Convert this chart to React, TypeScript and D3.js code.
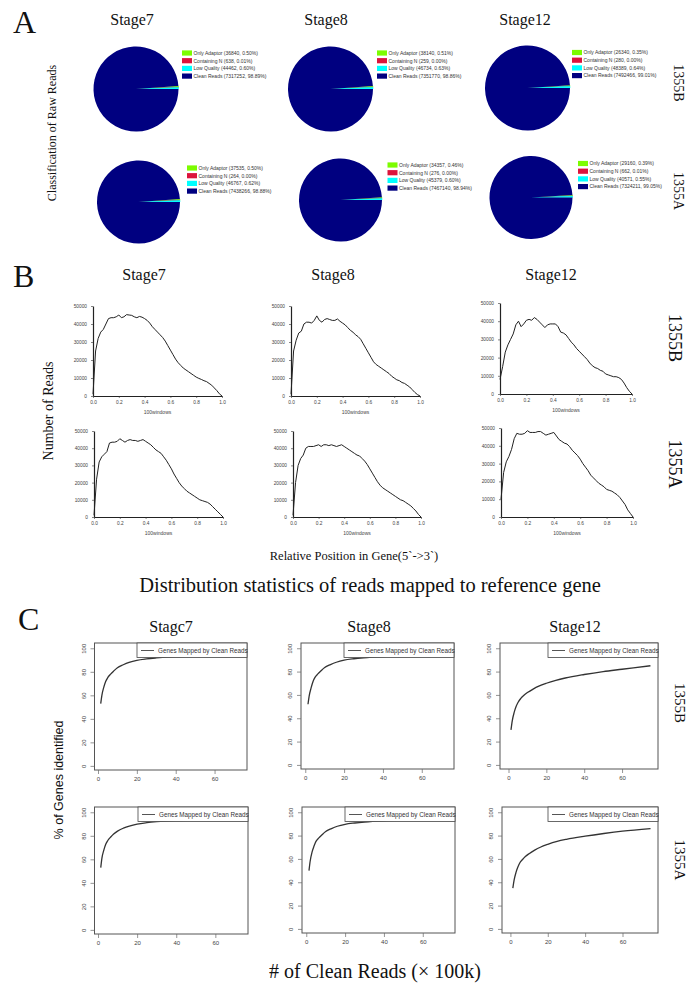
import { useEffect, useRef } from 'react';
import * as d3 from 'd3';

const W = 689;
const H = 1002;
const SERIF = '"Liberation Serif", "Times New Roman", serif';
const SANS = '"Liberation Sans", Arial, sans-serif';

// ---- data ----
const stages = ['Stage7', 'Stage8', 'Stage12'];
const stageTitlesC = ['Stagc7', 'Stage8', 'Stage12'];
const lines = ['1355B', '1355A'];

// A: classification of raw reads
const readClasses = ['Only Adaptor', 'Containing N', 'Low Quality', 'Clean Reads'];
const classColors = ['#7cfc00', '#dc143c', '#00ffff', '#000080'];
const rawReads1355B = [
  [36840, 638, 44462, 7317252],
  [38140, 259, 46734, 7351770],
  [26340, 280, 48389, 7492466],
];
const rawPct1355B = [
  ['0.50%', '0.01%', '0.60%', '98.89%'],
  ['0.51%', '0.00%', '0.63%', '98.86%'],
  ['0.35%', '0.00%', '0.64%', '99.01%'],
];
const rawReads1355A = [
  [37535, 264, 46767, 7438266],
  [34357, 276, 45379, 7467140],
  [29160, 662, 40571, 7324211],
];
const rawPct1355A = [
  ['0.50%', '0.00%', '0.62%', '98.88%'],
  ['0.46%', '0.00%', '0.60%', '98.94%'],
  ['0.39%', '0.01%', '0.55%', '99.05%'],
];

// B: reads along gene body (windows 0.00 .. 1.00 step 0.02)
const posTicks = [0, 0.2, 0.4, 0.6, 0.8, 1.0];
const readTicks = [0, 10000, 20000, 30000, 40000, 50000];
const cov1355BStage7 = [1000, 25000, 32000, 35500, 37000, 40000, 43000, 43500, 43500, 44000, 45000, 43500, 44000, 45200, 45000, 44800, 44000, 43500, 44200, 43800, 43000, 42000, 40500, 38500, 37000, 35500, 34000, 32500, 30500, 28000, 25500, 23000, 20500, 18500, 17000, 15500, 14500, 13500, 12500, 11500, 10500, 9800, 9200, 8500, 8000, 7000, 6000, 4500, 3000, 1200, 0];
const cov1355BStage8 = [1000, 25000, 31000, 35000, 36000, 40000, 41000, 41000, 40500, 42000, 44500, 42000, 41000, 42500, 43000, 42500, 42000, 42000, 42800, 41500, 40500, 39500, 38000, 36500, 35500, 34000, 33000, 31500, 29000, 26500, 24000, 21500, 19000, 17500, 16500, 15500, 14500, 13500, 12500, 11000, 10000, 9000, 8500, 7500, 7000, 6000, 5000, 3500, 2000, 800, 0];
const cov1355BStage12 = [8000, 15000, 23000, 27000, 30000, 33000, 38000, 40000, 37000, 38500, 40500, 41000, 40500, 42000, 41000, 39500, 38000, 36500, 38000, 38500, 38500, 38500, 37000, 34000, 33500, 32500, 30500, 28500, 27000, 25000, 23500, 22000, 20500, 19000, 17000, 15500, 14500, 14000, 13000, 12500, 11000, 10500, 10000, 9500, 9500, 9000, 8000, 6000, 3500, 1500, 0];
const cov1355AStage7 = [1000, 22000, 32000, 35000, 36500, 38000, 43000, 43500, 43500, 44000, 45500, 44500, 43500, 44500, 45000, 44500, 44500, 44000, 44500, 45000, 44000, 43000, 42000, 40500, 39000, 38000, 37000, 35000, 33000, 30500, 28000, 25000, 22500, 20000, 18000, 16500, 15000, 14000, 13000, 12000, 11000, 10000, 9500, 9000, 8500, 7500, 6000, 4500, 3000, 1500, 0];
const cov1355AStage8 = [1000, 20000, 30000, 34000, 36000, 40000, 41000, 41000, 41000, 41500, 42000, 41000, 42000, 42000, 41500, 42000, 41500, 41000, 41500, 42000, 41000, 40000, 39000, 38000, 37000, 36000, 35500, 34000, 32500, 30500, 28000, 25500, 23000, 20500, 18500, 17000, 16000, 15000, 14000, 13000, 12000, 11000, 10000, 9500, 8500, 7500, 6500, 5000, 3500, 1500, 0];
const cov1355AStage12 = [10000, 25000, 31000, 34000, 38000, 44000, 47000, 46500, 46500, 47000, 48500, 47500, 47500, 47500, 48000, 48000, 47000, 46000, 46500, 47000, 47500, 45500, 43500, 42500, 41500, 41000, 39500, 37500, 36000, 34500, 32500, 30000, 28000, 26000, 23500, 22000, 20500, 19000, 18000, 17000, 15500, 15000, 14500, 13500, 12500, 11000, 9000, 7000, 4000, 2000, 0];

// C: saturation of genes mapped by clean reads
const pctTicks = [0, 20, 40, 60, 80, 100];
const cleanTicks = [0, 20, 40, 60];
const cleanReadsEarly = [1.4, 2, 3, 4, 5, 6.5, 8, 10, 13, 16, 20, 25, 30, 40, 50, 60, 74];
const cleanReadsStage12 = [1.3, 2, 3, 4, 5, 6.5, 8, 10, 13, 16, 20, 25, 30, 40, 50, 60, 75];
const genes1355BStage7 = [53, 60, 67, 72, 75, 78, 80.5, 83.5, 86, 88, 89.8, 91, 91.8, 92.9, 93.4, 93.7, 94];
const genes1355BStage8 = [52, 59, 66, 71.5, 75, 78, 80.5, 83.5, 86, 88, 89.8, 91, 91.8, 92.8, 93.4, 93.8, 94.2];
const genes1355BStage12 = [30, 38, 45, 50, 53.5, 57, 59.5, 62, 65, 67.5, 70, 72.5, 74.5, 77.5, 80, 82, 85];
const genes1355AStage7 = [53, 61, 68, 73, 76, 79, 81.5, 84, 86.5, 88.3, 90, 91.2, 92, 93, 93.5, 93.8, 94.2];
const genes1355AStage8 = [50, 58, 66, 71, 75, 78, 80.5, 83.5, 86, 88, 89.7, 90.8, 91.6, 92.6, 93.2, 93.6, 94];
const genes1355AStage12 = [35, 42, 48.5, 53, 56.5, 59.5, 62, 64.5, 67.5, 70, 72.5, 75, 76.8, 79.5, 81.8, 83.8, 86];

const rawReads = [rawReads1355B, rawReads1355A];
const rawPct = [rawPct1355B, rawPct1355A];
const coverage = [
  [cov1355BStage7, cov1355BStage8, cov1355BStage12],
  [cov1355AStage7, cov1355AStage8, cov1355AStage12],
];
const genes = [
  [genes1355BStage7, genes1355BStage8, genes1355BStage12],
  [genes1355AStage7, genes1355AStage8, genes1355AStage12],
];
const cleanReads = [cleanReadsEarly, cleanReadsEarly, cleanReadsStage12];

// ---- layout ----
const pieCenters = [
  [[136, 89], [330.5, 89], [527.5, 88]],
  [[138.5, 202], [340.5, 200], [531, 197.5]],
];
const pieR = [42.5, 41.5];
const pieLegends = [
  [[182, 53], [377, 53], [572, 52.5]],
  [[187, 168], [387.5, 165], [578, 163.5]],
];
const covPanels = [
  [
    { x0: 93, x1: 222, y0: 396, y1: 306 },
    { x0: 291, x1: 420, y0: 396, y1: 306 },
    { x0: 500, x1: 632, y0: 394, y1: 303 },
  ],
  [
    { x0: 94, x1: 223, y0: 517, y1: 431 },
    { x0: 293, x1: 421, y0: 517, y1: 431 },
    { x0: 501, x1: 633, y0: 517, y1: 428 },
  ],
];
const satPanels = [
  [
    { x0: 94.5, x1: 247, y0: 770, y1: 643, xd: [-1.8, 76.7] },
    { x0: 301, x1: 454, y0: 769, y1: 643, xd: [-2.2, 76.6] },
    { x0: 500, x1: 658, y0: 769, y1: 643, xd: [-4.5, 79] },
  ],
  [
    { x0: 94.5, x1: 248, y0: 934, y1: 807, xd: [-1.8, 76.7] },
    { x0: 302, x1: 455, y0: 933, y1: 807, xd: [-2.2, 76.6] },
    { x0: 502, x1: 658, y0: 933, y1: 807, xd: [-4.5, 79] },
  ],
];

export default function App() {
  const svgRef = useRef<SVGSVGElement>(null);

  useEffect(() => {
    const svg = d3.select(svgRef.current);
    svg.selectAll('*').remove();
    svg.append('rect').attr('width', W).attr('height', H).attr('fill', '#fff');

    const label = (
      x: number,
      y: number,
      s: string,
      size: number,
      opts: { rotate?: number; anchor?: string; font?: string; fill?: string } = {}
    ) => {
      const t = svg
        .append('text')
        .attr('transform', `translate(${x},${y})${opts.rotate ? ` rotate(${opts.rotate})` : ''}`)
        .attr('text-anchor', opts.anchor ?? 'middle')
        .attr('font-family', opts.font ?? SERIF)
        .attr('font-size', size)
        .attr('fill', opts.fill ?? '#111')
        .text(s);
      if (opts.rotate) t.attr('dy', '0.35em');
      return t;
    };

    // panel letters and titles
    label(13, 33, 'A', 32, { anchor: 'start' });
    label(13, 287, 'B', 32, { anchor: 'start' });
    label(18, 630, 'C', 32, { anchor: 'start' });
    [132, 326, 525].forEach((x, i) => label(x, 25, stages[i], 16));
    [144, 333, 551].forEach((x, i) => label(x, 280, stages[i], 16));
    [171, 369, 575].forEach((x, i) => label(x, 632, stageTitlesC[i], 16));

    label(679, 83, lines[0], 14, { rotate: 90 });
    label(679, 191, lines[1], 14, { rotate: 90 });
    label(675, 338, lines[0], 18, { rotate: 90 });
    label(675, 464, lines[1], 18, { rotate: 90 });
    label(680, 703, lines[0], 15, { rotate: 90 });
    label(680, 860, lines[1], 15, { rotate: 90 });

    label(52, 133, 'Classification of Raw Reads', 12, { rotate: -90 });
    label(48, 411, 'Number of Reads', 14, { rotate: -90 });
    label(59, 780, '% of Genes identified', 12.5, { rotate: -90, font: SANS });
    label(354, 560, 'Relative Position in Gene(5`->3`)', 12.5);
    label(370, 592, 'Distribution statistics of reads mapped to reference gene', 20.5);
    label(375, 978, '# of Clean Reads (\u00d7 100k)', 20);

    // ---- A: pies ----
    rawReads.forEach((row, r) => {
      row.forEach((counts, s) => {
        const total = d3.sum(counts);
        const small = d3.sum(counts.slice(0, 3)) / total;
        const a0 = Math.PI / 2 - small * 2 * Math.PI;
        const pie = d3
          .pie<number>()
          .sort(null)
          .value((d) => d)
          .startAngle(a0)
          .endAngle(a0 + 2 * Math.PI);
        const arc = d3.arc<d3.PieArcDatum<number>>().innerRadius(0).outerRadius(pieR[r]);
        const [cx, cy] = pieCenters[r][s];
        svg
          .append('g')
          .attr('transform', `translate(${cx},${cy})`)
          .selectAll('path')
          .data(pie(counts))
          .join('path')
          .attr('d', arc)
          .attr('fill', (d, i) => classColors[i])
          .attr('stroke', (d, i) => (i === 3 ? 'none' : classColors[i]))
          .attr('stroke-width', 0.6);

        const [lx, ly] = pieLegends[r][s];
        const lg = svg.append('g').attr('transform', `translate(${lx},${ly})`);
        readClasses.forEach((name, i) => {
          lg.append('rect')
            .attr('x', 0)
            .attr('y', i * 7.7 - 2.6)
            .attr('width', 10)
            .attr('height', 5.2)
            .attr('fill', classColors[i]);
          lg.append('text')
            .attr('x', 11.5)
            .attr('y', i * 7.7 + 1.8)
            .attr('font-family', SANS)
            .attr('font-size', 5)
            .attr('fill', '#333')
            .text(`${name} (${counts[i]}, ${rawPct[r][s][i]})`);
        });
      });
    });

    // ---- B: coverage lines ----
    coverage.forEach((row, r) => {
      row.forEach((vals, s) => {
        const p = covPanels[r][s];
        const x = d3.scaleLinear().domain([0, 1]).range([p.x0, p.x1]);
        const y = d3.scaleLinear().domain([0, 50000]).range([p.y0, p.y1]);
        const g = svg.append('g');

        const ya = g
          .append('g')
          .attr('transform', `translate(${p.x0},0)`)
          .call(d3.axisLeft(y).tickValues(readTicks).tickFormat(d3.format('d')).tickSize(2).tickSizeOuter(0).tickPadding(4));
        const xa = g
          .append('g')
          .attr('transform', `translate(0,${p.y0})`)
          .call(d3.axisBottom(x).tickValues(posTicks).tickFormat(d3.format('.1f')).tickSize(2).tickSizeOuter(0).tickPadding(3));
        [ya, xa].forEach((a) => {
          a.selectAll('text').attr('font-family', SANS).attr('font-size', 4.8).attr('fill', '#444');
          a.selectAll('line').attr('stroke', '#333').attr('stroke-width', 0.6);
          a.select('.domain').attr('stroke', '#222').attr('stroke-width', 1.2);
        });

        const line = d3
          .line<number>()
          .x((d, i) => x(i / (vals.length - 1)))
          .y((d) => y(d));
        g.append('path')
          .datum(vals)
          .attr('fill', 'none')
          .attr('stroke', '#222')
          .attr('stroke-width', 1)
          .attr('d', line);

        g.append('text')
          .attr('x', (p.x0 + p.x1) / 2)
          .attr('y', p.y0 + 18)
          .attr('text-anchor', 'middle')
          .attr('font-family', SANS)
          .attr('font-size', 5)
          .attr('fill', '#444')
          .text('100windows');
      });
    });

    // ---- C: saturation curves ----
    genes.forEach((row, r) => {
      row.forEach((vals, s) => {
        const p = satPanels[r][s];
        const x = d3.scaleLinear().domain(p.xd).range([p.x0, p.x1]);
        const y = d3.scaleLinear().domain([-3.5, 104.5]).range([p.y0, p.y1]);
        const g = svg.append('g');

        g.append('rect')
          .attr('x', p.x0)
          .attr('y', p.y1)
          .attr('width', p.x1 - p.x0)
          .attr('height', p.y0 - p.y1)
          .attr('fill', 'none')
          .attr('stroke', '#555')
          .attr('stroke-width', 1);

        const ya = g
          .append('g')
          .attr('transform', `translate(${p.x0},0)`)
          .call(d3.axisLeft(y).tickValues(pctTicks).tickSize(4).tickSizeOuter(0));
        ya.select('.domain').remove();
        ya.selectAll('text')
          .attr('x', 0)
          .attr('dy', 0)
          .attr('text-anchor', 'middle')
          .attr('transform', 'translate(-9,0) rotate(-90)');

        const xa = g
          .append('g')
          .attr('transform', `translate(0,${p.y0})`)
          .call(d3.axisBottom(x).tickValues(cleanTicks).tickSize(4).tickSizeOuter(0).tickPadding(3));
        xa.select('.domain').remove();
        [ya, xa].forEach((a) => {
          a.selectAll('text').attr('font-family', SANS).attr('font-size', 6).attr('fill', '#444');
          a.selectAll('line').attr('stroke', '#666').attr('stroke-width', 0.7);
        });

        const xs = cleanReads[s];
        const line = d3
          .line<number>()
          .curve(d3.curveMonotoneX)
          .x((d, i) => x(xs[i]))
          .y((d) => y(d));
        g.append('path')
          .datum(vals)
          .attr('fill', 'none')
          .attr('stroke', '#333')
          .attr('stroke-width', 1.3)
          .attr('d', line);

        // legend, top right
        const lg = g.append('g').attr('transform', `translate(${p.x1 - 110},${p.y1})`);
        lg.append('rect')
          .attr('width', 110)
          .attr('height', 14.5)
          .attr('fill', '#fff')
          .attr('stroke', '#444')
          .attr('stroke-width', 0.8);
        lg.append('line')
          .attr('x1', 4)
          .attr('x2', 17)
          .attr('y1', 7.5)
          .attr('y2', 7.5)
          .attr('stroke', '#555')
          .attr('stroke-width', 1);
        lg.append('text')
          .attr('x', 21)
          .attr('y', 9.7)
          .attr('font-family', SANS)
          .attr('font-size', 6.3)
          .attr('fill', '#333')
          .text('Genes Mapped by Clean Reads');
      });
    });
  }, []);

  return (
    <svg
      ref={svgRef}
      width={W}
      height={H}
      style={{ position: 'absolute', left: 0, top: 0, display: 'block' }}
    />
  );
}
